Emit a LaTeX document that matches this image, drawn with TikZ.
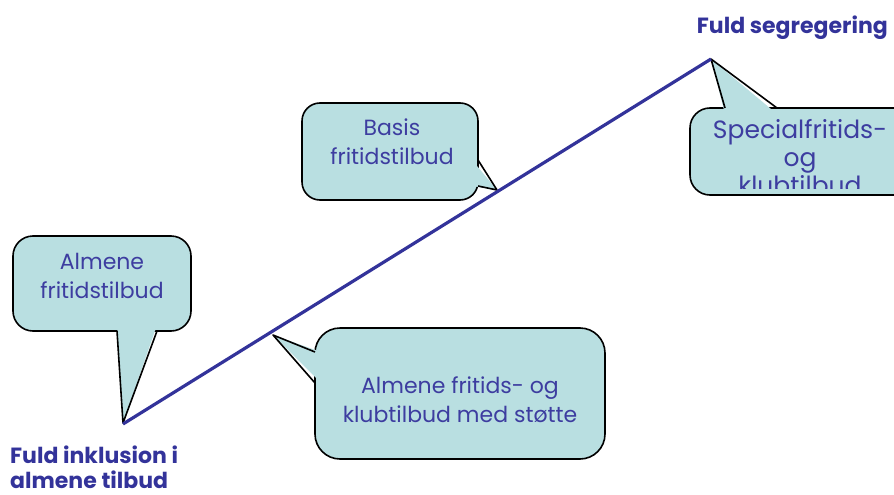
\documentclass[tikz,border=0pt]{standalone}
\usepackage{fontspec}
\setmainfont{Poppins}
\definecolor{calfill}{HTML}{B9DFE1}
\definecolor{caltext}{HTML}{3D3DA0}
\definecolor{lineblue}{HTML}{33339A}
\tikzset{
  calbox/.style={fill=calfill, draw=black, line width=1.6pt},
  caltail/.style={fill=calfill},
  calside/.style={draw=black, line width=1.6pt, line join=round},
  caltxt/.style={text=caltext, font=\fontsize{22}{29}\selectfont, align=center, inner sep=0pt},
  endlabel/.style={text=lineblue, font=\fontsize{22}{25}\selectfont\bfseries, align=left, inner sep=0pt},
}
\begin{document}
\begin{tikzpicture}[x=1pt,y=-1pt]
\useasboundingbox (0,0) rectangle (894,495);
% coordinates
\coordinate (start) at (123,424);
\coordinate (end) at (711,59);
% Callout 1: Almene fritidstilbud
\draw[calbox, rounded corners=20pt] (13,236) rectangle (191,331);
\fill[caltail] (117,325) -- (123,423) -- (157,325) -- cycle;
\draw[calside] (117,331) -- (123,423) -- (157,331);
\node[caltxt] (c1) at (102,276) {Almene\\fritidstilbud};
% Callout 2: Basis fritidstilbud
\draw[calbox, rounded corners=18pt] (302,103) rectangle (478,200);
\fill[caltail] (472,160) -- (497,190) -- (472,186) -- cycle;
\draw[calside] (478,160) -- (497,190) -- (478,186);
\node[caltxt] (c2) at (392,142) {Basis\\fritidstilbud};
% Callout 3: Specialfritids- og klubtilbud
\draw[calbox, rounded corners=20pt] (690,108) rectangle (920,195);
\fill[caltail] (725,114) -- (711,59) -- (777,114) -- cycle;
\draw[calside] (725,108) -- (711,59) -- (777,108);
\begin{scope}
\clip (690,100) rectangle (894,188);
\node[caltxt, font=\fontsize{25}{28}\selectfont, anchor=north] (c3) at (800,119) {Specialfritids-\\og\\klubtilbud};
\end{scope}
% Callout 4: Almene fritids- og klubtilbud med stoette
\draw[calbox, rounded corners=25pt] (315,328) rectangle (605,459);
\fill[caltail] (321,352) -- (273,335) -- (321,383) -- cycle;
\draw[calside] (315,352) -- (273,335) -- (315,383);
% main line
\draw[lineblue, line width=3.2pt] (start) -- (end);
\node[caltxt] (c4) at (460,400) {Almene fritids- og\\klubtilbud med støtte};
% end labels
\node[endlabel, anchor=north east] (seg) at (888,16) {Fuld segregering};
\node[endlabel, anchor=north west] (inkl) at (10,446) {Fuld inklusion i\\almene tilbud};
\end{tikzpicture}
\end{document}
